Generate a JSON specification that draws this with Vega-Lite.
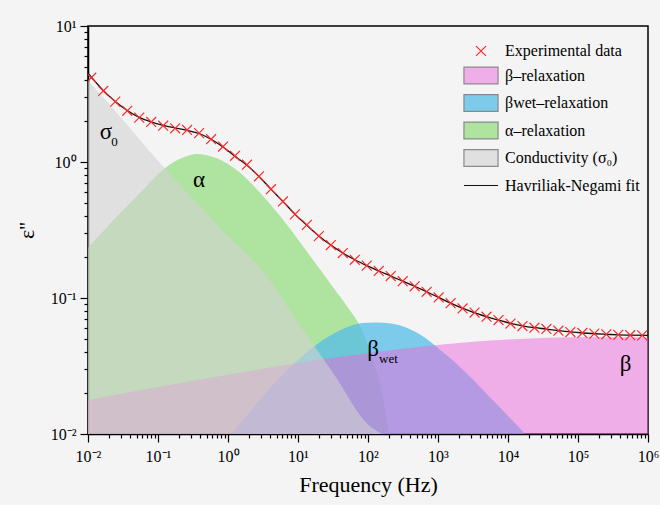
{
  "$schema": "https://vega.github.io/schema/vega-lite/v6.json",
  "width": 560,
  "height": 408,
  "autosize": "none",
  "padding": {"left": 88, "top": 26, "right": 12, "bottom": 71},
  "background": "#f4f4f4",
  "config": {
    "font": "Liberation Serif",
    "view": {"stroke": "black", "strokeWidth": 1.5, "fill": "#f4f4f4"},
    "axis": {
      "domainColor": "black", "domainWidth": 1.5,
      "tickColor": "black", "tickWidth": 1.2,
      "labelColor": "black", "labelFont": "Liberation Serif", "labelFontSize": 16,
      "titleFont": "Liberation Serif", "titleFontWeight": "normal", "titleColor": "black", "titleFontSize": 22,
      "grid": false
    }
  },
  "datasets": {
    "measured": [
      {"f": 0.01114, "eps": 4.17}, {"f": 0.01652, "eps": 3.33}, {"f": 0.0245, "eps": 2.78}, {"f": 0.03634, "eps": 2.38},
      {"f": 0.05388, "eps": 2.12}, {"f": 0.0799, "eps": 1.97}, {"f": 0.1185, "eps": 1.85}, {"f": 0.1757, "eps": 1.77},
      {"f": 0.2605, "eps": 1.72}, {"f": 0.3863, "eps": 1.63}, {"f": 0.5728, "eps": 1.47}, {"f": 0.8495, "eps": 1.30},
      {"f": 1.259, "eps": 1.11}, {"f": 1.867, "eps": 0.955}, {"f": 2.77, "eps": 0.785}, {"f": 4.107, "eps": 0.631},
      {"f": 6.09, "eps": 0.513}, {"f": 9.031, "eps": 0.412}, {"f": 13.39, "eps": 0.345}, {"f": 19.86, "eps": 0.285},
      {"f": 29.44, "eps": 0.245}, {"f": 43.67, "eps": 0.214}, {"f": 64.75, "eps": 0.191}, {"f": 96.0, "eps": 0.173},
      {"f": 142.4, "eps": 0.158}, {"f": 211.1, "eps": 0.145}, {"f": 313.1, "eps": 0.133}, {"f": 464.2, "eps": 0.122},
      {"f": 688.4, "eps": 0.111}, {"f": 1021, "eps": 0.101}, {"f": 1514, "eps": 0.0916}, {"f": 2245, "eps": 0.0838},
      {"f": 3329, "eps": 0.0782}, {"f": 4936, "eps": 0.0729}, {"f": 7319, "eps": 0.0689}, {"f": 10852, "eps": 0.0649},
      {"f": 16092, "eps": 0.0622}, {"f": 23863, "eps": 0.0605}, {"f": 35386, "eps": 0.0592}, {"f": 52472, "eps": 0.0575},
      {"f": 77804, "eps": 0.0562}, {"f": 115373, "eps": 0.0553}, {"f": 171080, "eps": 0.0547}, {"f": 253690, "eps": 0.0541},
      {"f": 376180, "eps": 0.0536}, {"f": 557820, "eps": 0.0533}, {"f": 827190, "eps": 0.0531}
    ],
    "fit": [
      {"f": 0.01, "eps": 4.5}, {"f": 0.01652, "eps": 3.36}, {"f": 0.0245, "eps": 2.78}, {"f": 0.03634, "eps": 2.39},
      {"f": 0.05388, "eps": 2.13}, {"f": 0.0799, "eps": 1.97}, {"f": 0.1185, "eps": 1.86}, {"f": 0.1757, "eps": 1.78},
      {"f": 0.2605, "eps": 1.71}, {"f": 0.3863, "eps": 1.62}, {"f": 0.5728, "eps": 1.47}, {"f": 0.8495, "eps": 1.29},
      {"f": 1.259, "eps": 1.10}, {"f": 1.867, "eps": 0.945}, {"f": 2.77, "eps": 0.783}, {"f": 4.107, "eps": 0.632},
      {"f": 6.09, "eps": 0.512}, {"f": 9.031, "eps": 0.414}, {"f": 13.39, "eps": 0.343}, {"f": 19.86, "eps": 0.286},
      {"f": 29.44, "eps": 0.245}, {"f": 43.67, "eps": 0.214}, {"f": 64.75, "eps": 0.191}, {"f": 96.0, "eps": 0.173},
      {"f": 142.4, "eps": 0.158}, {"f": 211.1, "eps": 0.145}, {"f": 313.1, "eps": 0.133}, {"f": 464.2, "eps": 0.122},
      {"f": 688.4, "eps": 0.111}, {"f": 1021, "eps": 0.101}, {"f": 1514, "eps": 0.0916}, {"f": 2245, "eps": 0.0839},
      {"f": 3329, "eps": 0.0781}, {"f": 4936, "eps": 0.0729}, {"f": 7319, "eps": 0.0688}, {"f": 10852, "eps": 0.0651},
      {"f": 16092, "eps": 0.0624}, {"f": 23863, "eps": 0.0605}, {"f": 35386, "eps": 0.0591}, {"f": 52472, "eps": 0.0576},
      {"f": 77804, "eps": 0.0563}, {"f": 115373, "eps": 0.0553}, {"f": 171080, "eps": 0.0546}, {"f": 253690, "eps": 0.0541},
      {"f": 376180, "eps": 0.0536}, {"f": 557820, "eps": 0.0533}, {"f": 1000000, "eps": 0.0531}
    ],
    "alpha": [
      {"f": 0.01, "eps": 0.2344}, {"f": 0.01778, "eps": 0.3236}, {"f": 0.03162, "eps": 0.4416}, {"f": 0.05623, "eps": 0.5957},
      {"f": 0.1, "eps": 0.8128}, {"f": 0.1413, "eps": 0.9441}, {"f": 0.1995, "eps": 1.047}, {"f": 0.2818, "eps": 1.122},
      {"f": 0.3548, "eps": 1.146}, {"f": 0.5012, "eps": 1.122}, {"f": 0.7079, "eps": 1.059}, {"f": 1, "eps": 0.966},
      {"f": 1.413, "eps": 0.8511}, {"f": 1.995, "eps": 0.7244}, {"f": 3.162, "eps": 0.5623}, {"f": 5.012, "eps": 0.4266},
      {"f": 7.943, "eps": 0.3162}, {"f": 12.59, "eps": 0.2291}, {"f": 19.95, "eps": 0.166}, {"f": 31.62, "eps": 0.1202},
      {"f": 50.12, "eps": 0.0871}, {"f": 79.43, "eps": 0.0603}, {"f": 112.2, "eps": 0.038}, {"f": 158.5, "eps": 0.01995},
      {"f": 199.5, "eps": 0.01}
    ],
    "betawet": [
      {"f": 1.122, "eps": 0.01}, {"f": 1.585, "eps": 0.01245}, {"f": 2.239, "eps": 0.01549}, {"f": 3.162, "eps": 0.01905},
      {"f": 4.467, "eps": 0.02317}, {"f": 6.31, "eps": 0.02786}, {"f": 8.913, "eps": 0.03311}, {"f": 12.59, "eps": 0.0389},
      {"f": 17.78, "eps": 0.04467}, {"f": 25.12, "eps": 0.0507}, {"f": 35.48, "eps": 0.05623}, {"f": 50.12, "eps": 0.06095},
      {"f": 70.79, "eps": 0.06457}, {"f": 100, "eps": 0.06577}, {"f": 141.3, "eps": 0.06607}, {"f": 199.5, "eps": 0.06531},
      {"f": 281.8, "eps": 0.0631}, {"f": 398.1, "eps": 0.05888}, {"f": 562.3, "eps": 0.0537}, {"f": 794.3, "eps": 0.04732},
      {"f": 1122, "eps": 0.04074}, {"f": 1585, "eps": 0.03508}, {"f": 2239, "eps": 0.02985}, {"f": 3162, "eps": 0.02512},
      {"f": 4467, "eps": 0.02089}, {"f": 6310, "eps": 0.01738}, {"f": 8913, "eps": 0.01445}, {"f": 12590, "eps": 0.01202},
      {"f": 17780, "eps": 0.01}
    ],
    "beta": [
      {"f": 0.01, "eps": 0.01778}, {"f": 0.1, "eps": 0.02213}, {"f": 1, "eps": 0.02723}, {"f": 10, "eps": 0.03327},
      {"f": 100, "eps": 0.03936}, {"f": 1000, "eps": 0.04519}, {"f": 10000, "eps": 0.04955}, {"f": 100000, "eps": 0.05152},
      {"f": 1000000, "eps": 0.05129}
    ],
    "sigma": [
      {"f": 0.01, "eps": 3.98}, {"f": 0.0316, "eps": 2.04}, {"f": 0.1, "eps": 1.023}, {"f": 0.316, "eps": 0.537},
      {"f": 1, "eps": 0.288}, {"f": 3.16, "eps": 0.158}, {"f": 10, "eps": 0.0661}, {"f": 31.6, "eps": 0.0282},
      {"f": 100, "eps": 0.01175}, {"f": 158.5, "eps": 0.01}
    ],
    "labels": [
      {"f": 0.01807, "eps": 1.474, "label": "σ"},
      {"f": 0.385, "eps": 0.656, "label": "α"},
      {"f": 117.8, "eps": 0.03727, "label": "β"},
      {"f": 477500, "eps": 0.02897, "label": "β"}
    ],
    "sublabels": [
      {"f": 0.02393, "eps": 1.31, "label": "0"},
      {"f": 196.3, "eps": 0.0331, "label": "wet"}
    ]
  },
  "encoding": {
    "x": {
      "field": "f", "type": "quantitative",
      "scale": {"type": "log", "domain": [0.01, 1000000], "nice": false},
      "title": "Frequency (Hz)",
      "axis": {
        "values": [0.01,0.02,0.03,0.04,0.05,0.06,0.07,0.08,0.09,0.1,0.2,0.3,0.4,0.5,0.6,0.7,0.8,0.9,1,2,3,4,5,6,7,8,9,10,20,30,40,50,60,70,80,90,100,200,300,400,500,600,700,800,900,1000,2000,3000,4000,5000,6000,7000,8000,9000,10000,20000,30000,40000,50000,60000,70000,80000,90000,100000,200000,300000,400000,500000,600000,700000,800000,900000,1000000],
        "labelExpr": "abs(log(datum.value)/LN10 - round(log(datum.value)/LN10)) < 0.001 ? '10' + (round(log(datum.value)/LN10) < 0 ? '⁻' : '') + ['⁰','¹','²','³','⁴','⁵','⁶'][abs(round(log(datum.value)/LN10))] : ''",
        "tickSize": {"condition": {"test": "abs(log(datum.value)/LN10 - round(log(datum.value)/LN10)) < 0.001", "value": 8}, "value": 4},
        "labelPadding": 6,
        "labelOverlap": false,
        "labelFlush": false,
        "titlePadding": 10
      }
    },
    "y": {
      "field": "eps", "type": "quantitative",
      "scale": {"type": "log", "domain": [0.01, 10], "nice": false},
      "title": "ε''",
      "axis": {
        "values": [0.01,0.02,0.03,0.04,0.05,0.06,0.07,0.08,0.09,0.1,0.2,0.3,0.4,0.5,0.6,0.7,0.8,0.9,1,2,3,4,5,6,7,8,9,10],
        "labelExpr": "abs(log(datum.value)/LN10 - round(log(datum.value)/LN10)) < 0.001 ? '10' + (round(log(datum.value)/LN10) < 0 ? '⁻' : '') + ['⁰','¹','²','³','⁴','⁵','⁶'][abs(round(log(datum.value)/LN10))] : ''",
        "tickSize": {"condition": {"test": "abs(log(datum.value)/LN10 - round(log(datum.value)/LN10)) < 0.001", "value": 8}, "value": 4},
        "labelPadding": 4,
        "labelOverlap": false,
        "labelFlush": false,
        "titlePadding": 12
      }
    }
  },
  "layer": [
    {
      "data": {"name": "alpha"},
      "transform": [{"calculate": "'α–relaxation'", "as": "series"}],
      "mark": {"type": "area", "interpolate": "monotone", "clip": true},
      "encoding": {"y2": {"datum": 0.01}, "fill": {"field": "series", "type": "nominal", "scale": {"domain": ["Experimental data", "β–relaxation", "βwet–relaxation", "α–relaxation", "Conductivity (σ₀)", "Havriliak-Negami fit"], "range": ["rgba(0,0,0,0)", "rgba(236,104,220,0.5)", "rgba(84,189,231,0.75)", "rgba(127,216,104,0.6)", "rgba(210,210,210,0.6)", "rgba(0,0,0,0)"]}, "legend": {"title": null, "orient": "none", "legendX": 381, "legendY": 13, "symbolSize": 484, "labelFontSize": 16, "labelFont": "Liberation Serif", "labelColor": "black", "symbolStrokeWidth": 1.2, "rowPadding": 4.5, "labelOffset": 12, "padding": 0, "symbolOpacity": 1}}}
    },
    {
      "data": {"name": "betawet"},
      "transform": [{"calculate": "'βwet–relaxation'", "as": "series"}],
      "mark": {"type": "area", "interpolate": "monotone", "clip": true},
      "encoding": {"y2": {"datum": 0.01}, "fill": {"field": "series", "type": "nominal"}}
    },
    {
      "data": {"name": "beta"},
      "transform": [{"calculate": "'β–relaxation'", "as": "series"}],
      "mark": {"type": "area", "interpolate": "monotone", "clip": true},
      "encoding": {"y2": {"datum": 0.01}, "fill": {"field": "series", "type": "nominal"}}
    },
    {
      "data": {"name": "sigma"},
      "transform": [{"calculate": "'Conductivity (σ₀)'", "as": "series"}],
      "mark": {"type": "area", "interpolate": "monotone", "clip": true},
      "encoding": {"y2": {"datum": 0.01}, "fill": {"field": "series", "type": "nominal"}}
    },
    {
      "data": {"name": "fit"},
      "transform": [{"calculate": "'Havriliak-Negami fit'", "as": "series"}],
      "mark": {"type": "line", "interpolate": "monotone", "strokeWidth": 1.3, "clip": true},
      "encoding": {"stroke": {"field": "series", "type": "nominal", "scale": {"domain": ["Experimental data", "β–relaxation", "βwet–relaxation", "α–relaxation", "Conductivity (σ₀)", "Havriliak-Negami fit"], "range": ["#ff2a2a", "#8a8a8a", "#8a8a8a", "#8a8a8a", "#8a8a8a", "#111111"]}, "legend": {"title": null, "orient": "none", "legendX": 381, "legendY": 13, "symbolSize": 484, "labelFontSize": 16, "labelFont": "Liberation Serif", "labelColor": "black", "symbolStrokeWidth": 1.2, "rowPadding": 4.5, "labelOffset": 12, "padding": 0, "symbolOpacity": 1}}}
    },
    {
      "data": {"name": "measured"},
      "transform": [{"calculate": "'Experimental data'", "as": "series"}],
      "mark": {"type": "point", "size": 484, "strokeWidth": 1.2, "opacity": 1, "clip": true},
      "encoding": {
        "fill": {"field": "series", "type": "nominal"},
        "stroke": {"field": "series", "type": "nominal"},
        "shape": {"field": "series", "type": "nominal", "scale": {"domain": ["Experimental data", "β–relaxation", "βwet–relaxation", "α–relaxation", "Conductivity (σ₀)", "Havriliak-Negami fit"], "range": ["M-0.45,-0.45L0.45,0.45M-0.45,0.45L0.45,-0.45", "M-1.55,-0.77H1.55V0.77H-1.55Z", "M-1.55,-0.77H1.55V0.77H-1.55Z", "M-1.55,-0.77H1.55V0.77H-1.55Z", "M-1.55,-0.77H1.55V0.77H-1.55Z", "M-1.55,0H1.55"]}, "legend": {"title": null, "orient": "none", "legendX": 381, "legendY": 13, "symbolSize": 484, "labelFontSize": 16, "labelFont": "Liberation Serif", "labelColor": "black", "symbolStrokeWidth": 1.2, "rowPadding": 4.5, "labelOffset": 12, "padding": 0, "symbolOpacity": 1}}
      }
    },
    {
      "data": {"name": "labels"},
      "mark": {"type": "text", "fontSize": 23, "font": "Liberation Serif", "color": "black", "align": "center", "baseline": "alphabetic"},
      "encoding": {"text": {"field": "label"}}
    },
    {
      "data": {"name": "sublabels"},
      "mark": {"type": "text", "fontSize": 13, "font": "Liberation Serif", "color": "black", "align": "center", "baseline": "alphabetic"},
      "encoding": {"text": {"field": "label"}}
    }
  ]
}
